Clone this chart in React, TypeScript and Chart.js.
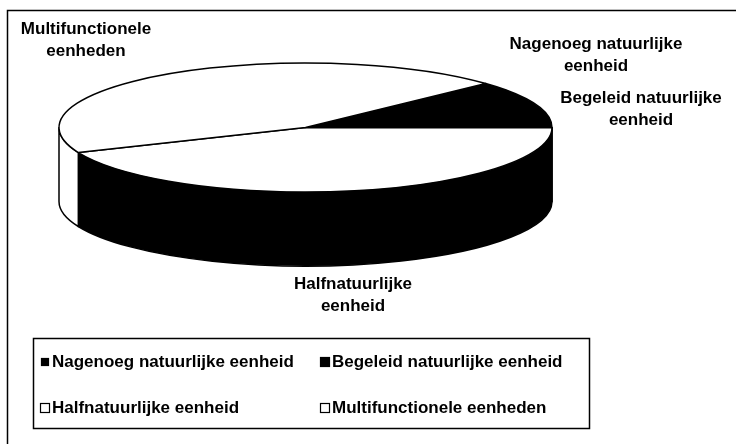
import React, { useEffect, useRef } from "react";
import { Chart, registerables } from "chart.js";

Chart.register(...registerables);

// ---- data ----
const categories = [
  "Nagenoeg natuurlijke eenheid",
  "Begeleid natuurlijke eenheid",
  "Halfnatuurlijke eenheid",
  "Multifunctionele eenheden",
];
const values = [2, 10, 43.6, 44.4];
const sliceLabelLines = [
  ["Nagenoeg natuurlijke", "eenheid"],
  ["Begeleid natuurlijke", "eenheid"],
  ["Halfnatuurlijke", "eenheid"],
  ["Multifunctionele", "eenheden"],
];

// ---- styles / layout ----
const topColors = ["#000000", "#000000", "#ffffff", "#ffffff"];
const sideColors = ["#000000", "#000000", "#000000", "#ffffff"];
const legendFill = ["#000000", "#000000", "#ffffff", "#ffffff"];
const legendSize = [7, 9, 9, 9];
const labelPos = [
  { x: 596, y: 44 },
  { x: 641, y: 98 },
  { x: 353, y: 284 },
  { x: 86, y: 29 },
];
const legendPos = [
  { x: 40, y: 362 },
  { x: 320, y: 362 },
  { x: 40, y: 408 },
  { x: 320, y: 408 },
];
const FONT = "bold 17px 'Liberation Sans Narrow', 'Arial Narrow', sans-serif";
const TILT = 0.2617;
const DEPTH = 0.3;

const pie3d = {
  id: "pie3d",
  beforeDraw(chart: any) {
    const ctx = chart.ctx;
    ctx.save();
    ctx.fillStyle = "#ffffff";
    ctx.fillRect(0, 0, chart.width, chart.height);
    ctx.strokeStyle = "#000";
    ctx.lineWidth = 1.5;
    ctx.strokeRect(7.5, 10.5, 740, 440);
    ctx.restore();
  },
  beforeDatasetsDraw(chart: any) {
    const ctx = chart.ctx;
    const arcs = chart.getDatasetMeta(0).data;
    const cx = arcs[0].x;
    const cy = arcs[0].y;
    const rx = arcs[0].outerRadius;
    const ry = rx * TILT;
    const d = rx * DEPTH;
    ctx.save();
    ctx.lineJoin = "round";
    ctx.strokeStyle = "#000";
    ctx.lineWidth = 1.5;
    const TAU = Math.PI * 2;
    // sides (front half only)
    arcs.forEach((a: any, i: number) => {
      const s = a.startAngle;
      const e = a.endAngle;
      for (let k = -2; k <= 2; k++) {
        const lo = Math.max(s, k * TAU);
        const hi = Math.min(e, k * TAU + Math.PI);
        if (hi <= lo) continue;
        ctx.beginPath();
        ctx.ellipse(cx, cy, rx, ry, 0, lo, hi, false);
        ctx.lineTo(cx + rx * Math.cos(hi), cy + d + ry * Math.sin(hi));
        ctx.ellipse(cx, cy + d, rx, ry, 0, hi, lo, true);
        ctx.closePath();
        ctx.fillStyle = sideColors[i];
        ctx.fill();
        ctx.stroke();
      }
    });
    // top faces
    arcs.forEach((a: any, i: number) => {
      ctx.beginPath();
      ctx.moveTo(cx, cy);
      ctx.ellipse(cx, cy, rx, ry, 0, a.startAngle, a.endAngle, false);
      ctx.closePath();
      ctx.fillStyle = topColors[i];
      ctx.fill();
      ctx.stroke();
    });
    ctx.restore();
    return false;
  },
  afterDraw(chart: any) {
    const ctx = chart.ctx;
    const labels = chart.data.labels;
    ctx.save();
    ctx.font = FONT;
    ctx.fillStyle = "#000";
    ctx.textBaseline = "middle";
    ctx.textAlign = "center";
    sliceLabelLines.forEach((lines, i) => {
      lines.forEach((t, j) => ctx.fillText(t, labelPos[i].x, labelPos[i].y + j * 22));
    });
    // legend box
    ctx.lineWidth = 1.5;
    ctx.strokeStyle = "#000";
    ctx.strokeRect(33.5, 338.5, 556, 90);
    ctx.textAlign = "left";
    labels.forEach((lab: string, i: number) => {
      const p = legendPos[i];
      const sz = legendSize[i];
      ctx.fillStyle = legendFill[i];
      ctx.fillRect(p.x + 5 - sz / 2, p.y - sz / 2, sz, sz);
      ctx.lineWidth = 1.2;
      ctx.strokeRect(p.x + 5 - sz / 2, p.y - sz / 2, sz, sz);
      ctx.fillStyle = "#000";
      ctx.fillText(lab, p.x + 12, p.y);
    });
    ctx.restore();
  },
};

export default function App() {
  const ref = useRef<HTMLCanvasElement>(null);
  useEffect(() => {
    const chart = new Chart(ref.current as HTMLCanvasElement, {
      type: "pie",
      data: {
        labels: categories,
        datasets: [{ data: values, backgroundColor: topColors, borderWidth: 0 }],
      },
      options: {
        animation: false,
        responsive: false,
        devicePixelRatio: 1,
        rotation: 47,
        radius: 246.5,
        layout: { padding: { left: 0, right: 125, top: 0, bottom: 189 } },
        plugins: { legend: { display: false }, tooltip: { enabled: false } },
      } as any,
      plugins: [pie3d],
    });
    return () => chart.destroy();
  }, []);
  return (
    <div style={{ position: "fixed", left: 0, top: 0, width: 736, height: 444 }}>
      <canvas ref={ref} width={736} height={444} />
    </div>
  );
}
